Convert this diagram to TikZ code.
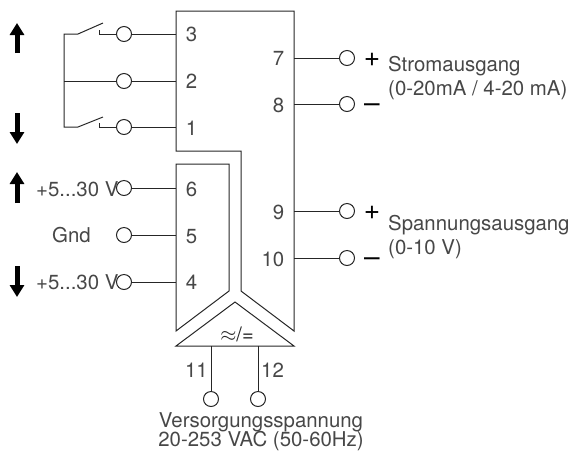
\documentclass[tikz,border=0pt]{standalone}
\usepackage{fontspec}
\setmainfont{TeX Gyre Heros}
\usetikzlibrary{arrows.meta}
\tikzset{
    wire/.style={line width=1pt,color=black!85},
    term/.style={circle,draw=black!85,line width=1pt,fill=white,minimum size=15pt,inner sep=0pt,outer sep=0pt},
    txt/.style={text=black!72,font=\fontsize{20.4}{20.4}\selectfont,inner sep=0pt,anchor=base},
    sign/.style={text=black,font=\fontsize{28}{28}\selectfont,inner sep=0pt,anchor=base},
    bigarrow/.style={line width=5pt,-{Triangle[width=14pt,length=12pt]}}
}
\begin{document}
\begin{tikzpicture}[x=1pt,y=-1pt]
        \useasboundingbox (0,0) rectangle (572,451);
        % housing
        \draw [wire] (176,331) -- (176,164) -- (229,164) -- (229,291) -- cycle;
        \draw [wire] (176,151) -- (176,11) -- (294,11) -- (294,331) -- (241,291) -- (241,151) -- cycle;
        \draw [wire] (176,346) -- (235,302) -- (294,346) -- cycle;
        \node [txt,text=black!85] (conv) at (237,341) {\fontsize{20}{20}\selectfont$\approx$/=};
        % coordinates on the housing
        \coordinate (w3) at (176,34);
        \coordinate (w2) at (176,81);
        \coordinate (w1) at (176,127);
        \coordinate (w6) at (176,188);
        \coordinate (w5) at (176,235);
        \coordinate (w4) at (176,282);
        \coordinate (w7) at (294,58);
        \coordinate (w8) at (294,104);
        \coordinate (w9) at (294,211);
        \coordinate (w10) at (294,258);
        \coordinate (w11) at (211,346);
        \coordinate (w12) at (258,346);
        % terminals
        \node [term] (t3) at (124,34) {};
        \node [term] (t2) at (124,81) {};
        \node [term] (t1) at (124,127) {};
        \node [term] (t6) at (124,188) {};
        \node [term] (t5) at (124,235) {};
        \node [term] (t4) at (124,282) {};
        \node [term] (t7) at (347,58) {};
        \node [term] (t8) at (347,104) {};
        \node [term] (t9) at (347,211) {};
        \node [term] (t10) at (347,258) {};
        \node [term] (t11) at (211,399) {};
        \node [term] (t12) at (258,399) {};
        \draw [wire] (t3) -- (w3);
        \draw [wire] (t2) -- (w2);
        \draw [wire] (t1) -- (w1);
        \draw [wire] (t6) -- (w6);
        \draw [wire] (t5) -- (w5);
        \draw [wire] (t4) -- (w4);
        \draw [wire] (t7) -- (w7);
        \draw [wire] (t8) -- (w8);
        \draw [wire] (t9) -- (w9);
        \draw [wire] (t10) -- (w10);
        \draw [wire] (t11) -- (w11);
        \draw [wire] (t12) -- (w12);
        % switches
        \coordinate (sw3) at (64,34);
        \coordinate (sw1) at (64,127);
        \draw [wire] (t2) -- (64,81);
        \draw [wire] (103,23) -- (78,34) -- (sw3) -- (sw1) -- (78,127) -- (103,117);
        \draw [wire] (99,30) -- (99,34) -- (t3);
        \draw [wire] (99,123) -- (99,127) -- (t1);
        % pin numbers
        \node [txt] (n3) at (191.5,41.5) {3};
        \node [txt] (n2) at (191.5,88) {2};
        \node [txt] (n1) at (191.5,135) {1};
        \node [txt] (n6) at (191.5,196) {6};
        \node [txt] (n5) at (191.5,243) {5};
        \node [txt] (n4) at (191.5,289) {4};
        \node [txt,anchor=base east] (n7) at (284.5,65) {7};
        \node [txt,anchor=base east] (n8) at (284.5,112) {8};
        \node [txt,anchor=base east] (n9) at (284.5,219) {9};
        \node [txt,anchor=base east] (n10) at (284.5,266) {10};
        \node [txt,anchor=base east] (n11) at (208,377) {11};
        \node [txt,anchor=base west] (n12) at (261,377) {12};
        % left labels
        \node [txt,anchor=base west] (vhi) at (36,196) {+5...30 V};
        \node [txt,anchor=base west] (gnd) at (52,242) {Gnd};
        \node [txt,anchor=base west] (vlo) at (36,289) {+5...30 V};
        % right labels
        \node [sign] (p7) at (372,66) {+};
        \node [sign] (m8) at (372,112) {--};
        \node [sign] (p9) at (372,219) {+};
        \node [sign] (m10) at (372,266) {--};
        \node [txt,anchor=base west] (strom) at (388,71) {Stromausgang};
        \node [txt,anchor=base west] (stromr) at (388,95.5) {(0-20mA / 4-20 mA)};
        \node [txt,anchor=base west] (spann) at (388,230) {Spannungsausgang};
        \node [txt,anchor=base west] (spannr) at (388,254.5) {(0-10 V)};
        \node [txt] (vers) at (261,427) {Versorgungsspannung};
        \node [txt] (versr) at (261,446) {20-253 VAC (50-60Hz)};
        % direction arrows
        \coordinate (a1) at (17,53);
        \coordinate (b1) at (17,23);
        \coordinate (a2) at (17,113);
        \coordinate (b2) at (17,144);
        \coordinate (a3) at (17,203);
        \coordinate (b3) at (17,172);
        \coordinate (a4) at (17,266);
        \coordinate (b4) at (17,297);
        \draw [bigarrow] (a1) -- (b1);
        \draw [bigarrow] (a2) -- (b2);
        \draw [bigarrow] (a3) -- (b3);
        \draw [bigarrow] (a4) -- (b4);
    \end{tikzpicture}
\end{document}
